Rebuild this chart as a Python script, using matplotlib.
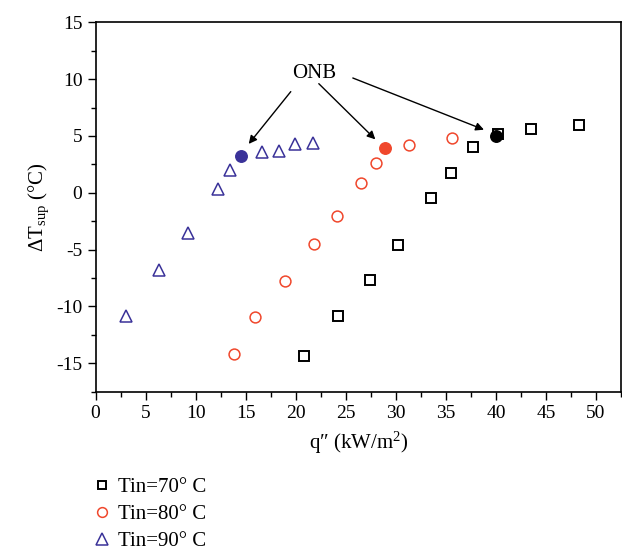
import matplotlib
matplotlib.use("Agg")
import matplotlib.pyplot as plt
from matplotlib.lines import Line2D
from matplotlib.ticker import MultipleLocator

plt.rcParams['font.family'] = ['Liberation Serif', 'DejaVu Serif']
plt.rcParams['mathtext.fontset'] = 'custom'
plt.rcParams['mathtext.rm'] = 'Liberation Serif'
plt.rcParams['mathtext.it'] = 'Liberation Serif:italic'
plt.rcParams['axes.unicode_minus'] = False

# Heat flux q'' (kW/m^2) and wall superheat dT_sup (deg C) for each inlet temperature
q_70 = [20.8, 24.2, 27.4, 30.2, 33.5, 35.5, 37.7, 40.2, 43.5, 48.3]
t_70 = [-14.4, -10.8, -7.7, -4.6, -0.5, 1.7, 4.0, 5.2, 5.6, 6.0]
q_80 = [13.8, 15.9, 18.9, 21.8, 24.1, 26.5, 28.0, 31.3, 35.6]
t_80 = [-14.2, -10.9, -7.8, -4.5, -2.0, 0.9, 2.6, 4.2, 4.8]
q_90 = [3.0, 6.3, 9.2, 12.2, 13.4, 16.6, 18.3, 19.9, 21.75]
t_90 = [-10.8, -6.8, -3.5, 0.35, 2.0, 3.55, 3.65, 4.25, 4.4]

# Onset of nucleate boiling points
onb_q = [40.0, 28.9, 14.5]
onb_t = [5.0, 3.9, 3.2]

labels = ["Tin=70° C", "Tin=80° C", "Tin=90° C"]
colors = ["black", "#f0472c", "#3a3299"]
markers = ["s", "o", "^"]
sizes = [7.0, 7.8, 9.0]
edge_widths = [1.4, 1.1, 1.1]

fig = plt.figure(figsize=(6.22, 5.52), dpi=100)
ax = fig.add_axes([0.1537, 0.2904, 0.8448, 0.6692])

for q, t, m, c, ms, ew in zip([q_70, q_80, q_90], [t_70, t_80, t_90],
                              markers, colors, sizes, edge_widths):
    ax.plot(q, t, linestyle='none', marker=m, markersize=ms,
            markerfacecolor='none', markeredgecolor=c, markeredgewidth=ew)

for q, t, c in zip(onb_q, onb_t, colors):
    ax.plot(q, t, linestyle='none', marker='o', markersize=8.3,
            markerfacecolor=c, markeredgecolor=c)

ax.text(21.8, 10.5, "ONB", ha='center', va='center', fontsize=15)
arrow_tails = [(19.5, 8.9), (22.3, 9.6), (25.7, 10.1)]
arrow_heads = [(15.3, 4.3), (27.95, 4.7), (38.8, 5.55)]
for (x0, y0), (x1, y1) in zip(arrow_tails, arrow_heads):
    ax.annotate("", xy=(x1, y1), xytext=(x0, y0),
                arrowprops=dict(arrowstyle='-|>', color='black', lw=1.0,
                                mutation_scale=12, shrinkA=0, shrinkB=0))

ax.set_xlim(0, 52.5)
ax.set_ylim(-17.5, 15)
ax.xaxis.set_major_locator(MultipleLocator(5))
ax.xaxis.set_minor_locator(MultipleLocator(2.5))
ax.yaxis.set_major_locator(MultipleLocator(5))
ax.yaxis.set_minor_locator(MultipleLocator(2.5))
ax.tick_params(which='major', direction='out', length=6, width=1.0, labelsize=14)
ax.tick_params(which='minor', direction='out', length=3.5, width=1.0)
for s in ax.spines.values():
    s.set_linewidth(1.2)

ax.set_xlabel("q\u2033 (kW/m$^2$)", fontsize=15, labelpad=6)
ax.set_ylabel(r"$\Delta$T$_{\mathrm{sup}}$ (°C)", fontsize=15, labelpad=4)

handles = [Line2D([], [], linestyle='none', marker=m, markersize=ms * 0.9,
                  markerfacecolor='none', markeredgecolor=c, markeredgewidth=ew)
           for m, c, ms, ew in zip(markers, colors, sizes, edge_widths)]
fig.legend(handles, labels, loc='upper left', bbox_to_anchor=(0.137, 0.15),
           frameon=False, fontsize=15, handletextpad=0.35, labelspacing=0.35,
           handlelength=0.8, borderaxespad=0)

fig.savefig("out.png", dpi=100)
